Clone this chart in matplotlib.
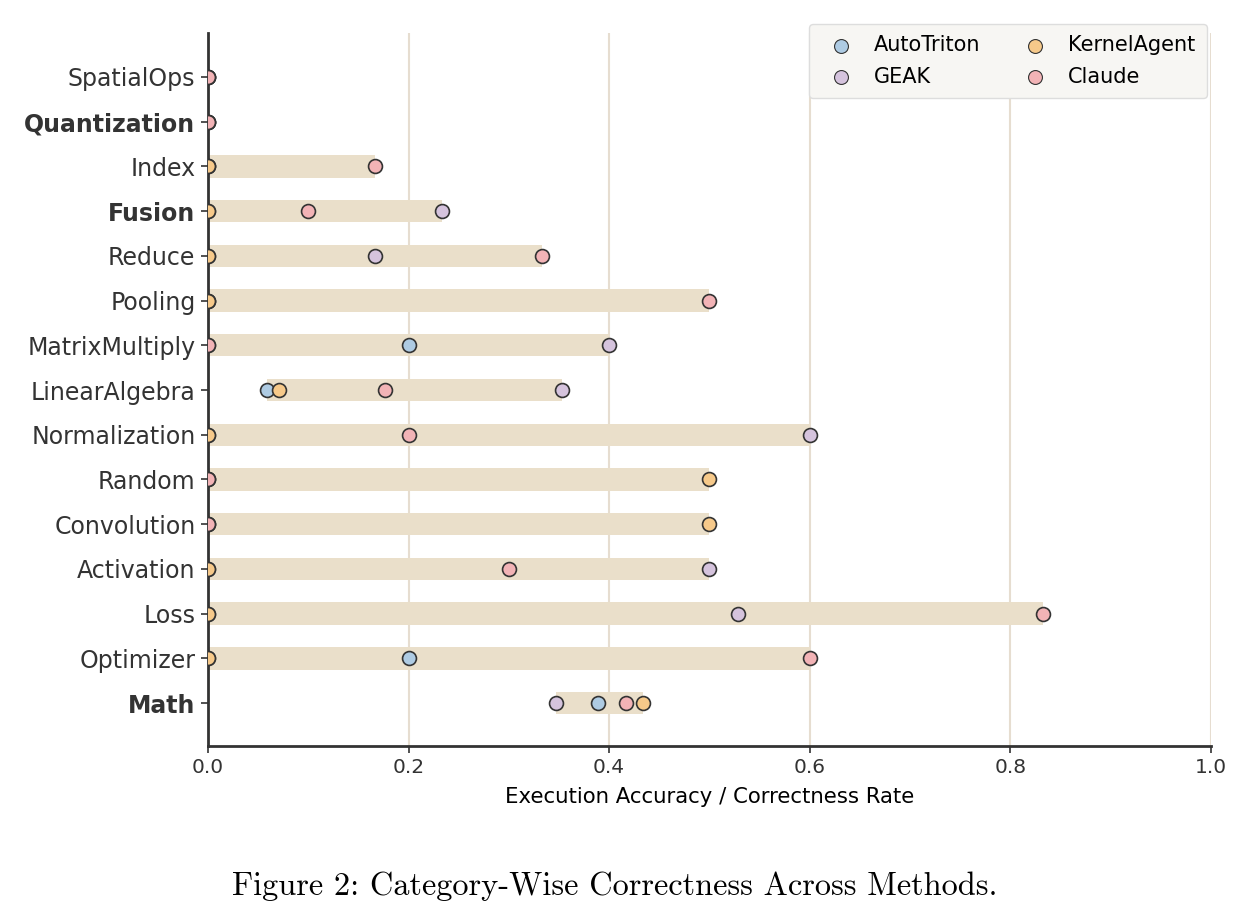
import numpy as np
import matplotlib
matplotlib.use("Agg")
import matplotlib.pyplot as plt

# Categories, bottom to top
categories = ['Math', 'Optimizer', 'Loss', 'Activation', 'Convolution', 'Random',
              'Normalization', 'LinearAlgebra', 'MatrixMultiply', 'Pooling',
              'Reduce', 'Fusion', 'Index', 'Quantization', 'SpatialOps']
bold_cats = ['Quantization', 'Fusion', 'Math']

methods = ['AutoTriton', 'GEAK', 'KernelAgent', 'Claude']
autotriton = [0.389, 0.2, 0.0, 0.0, 0.0, 0.0, 0.0, 0.059, 0.2, 0.0, 0.0, 0.0, 0.0, 0.0, 0.0]
geak = [0.347, 0.0, 0.528, 0.5, 0.0, 0.0, 0.6, 0.353, 0.4, 0.0, 0.167, 0.233, 0.0, 0.0, 0.0]
kernelagent = [0.434, 0.0, 0.0, 0.0, 0.5, 0.5, 0.0, 0.071, 0.0, 0.0, 0.0, 0.0, 0.0, 0.0, 0.0]
claude = [0.417, 0.6, 0.833, 0.3, 0.0, 0.0, 0.2, 0.176, 0.0, 0.5, 0.333, 0.1, 0.167, 0.0, 0.0]

colors = {'AutoTriton': '#aecbe3', 'GEAK': '#d5c3dd', 'KernelAgent': '#f6c98a', 'Claude': '#f2b3b6'}
text_col = '#333333'

data = np.array([autotriton, geak, kernelagent, claude])
y = np.arange(len(categories))

fig, ax = plt.subplots(figsize=(12.41, 9.19), dpi=100)
fig.subplots_adjust(left=0.1676, right=0.9758, bottom=0.1882, top=0.964)

# range bars
lo = data.min(axis=0)
hi = data.max(axis=0)
ax.barh(y, hi - lo, left=lo, height=0.5, color='#eadfca', zorder=1)

for i, m in enumerate(methods):
    ax.scatter(data[i], y, s=100, color=colors[m], edgecolor=text_col,
               linewidth=1.2, zorder=3 + i, label=m)

ax.set_xlim(0, 1)
ax.set_ylim(-0.96, 14.98)
ax.set_yticks(y)
ax.set_yticklabels(categories, fontsize=17, color=text_col)
for lbl in ax.get_yticklabels():
    if lbl.get_text() in bold_cats:
        lbl.set_fontweight('bold')
ax.set_xticks(np.arange(0, 1.01, 0.2))
ax.tick_params(axis='x', labelsize=14.5, colors=text_col, length=5, width=1.2)
ax.tick_params(axis='y', colors=text_col, length=5, width=1.2, pad=4)
ax.set_xlabel('Execution Accuracy / Correctness Rate', fontsize=15.3, color='black', labelpad=7)

ax.grid(axis='x', color='#e6ddd0', linewidth=1.5, zorder=0)
ax.set_axisbelow(True)
for s in ['top', 'right']:
    ax.spines[s].set_visible(False)
for s in ['left', 'bottom']:
    ax.spines[s].set_color(text_col)
    ax.spines[s].set_linewidth(2)

leg = ax.legend(loc='upper right', bbox_to_anchor=(0.996, 1.013), borderaxespad=0,
                ncol=2, fontsize=15, frameon=True, markerscale=1.0,
                columnspacing=1.6, handletextpad=0.6, labelspacing=0.55,
                borderpad=0.55)
leg.get_frame().set_facecolor('#f7f6f3')
leg.get_frame().set_edgecolor('#dddddd')
leg.get_frame().set_alpha(1)
for h in leg.legend_handles:
    h.set_linewidth(0.8)

fig.text(0.495, 0.036, 'Figure 2: Category-Wise Correctness Across Methods.',
         ha='center', va='center', fontsize=23.3, family='cmr10')

fig.savefig('out.png', dpi=100)
